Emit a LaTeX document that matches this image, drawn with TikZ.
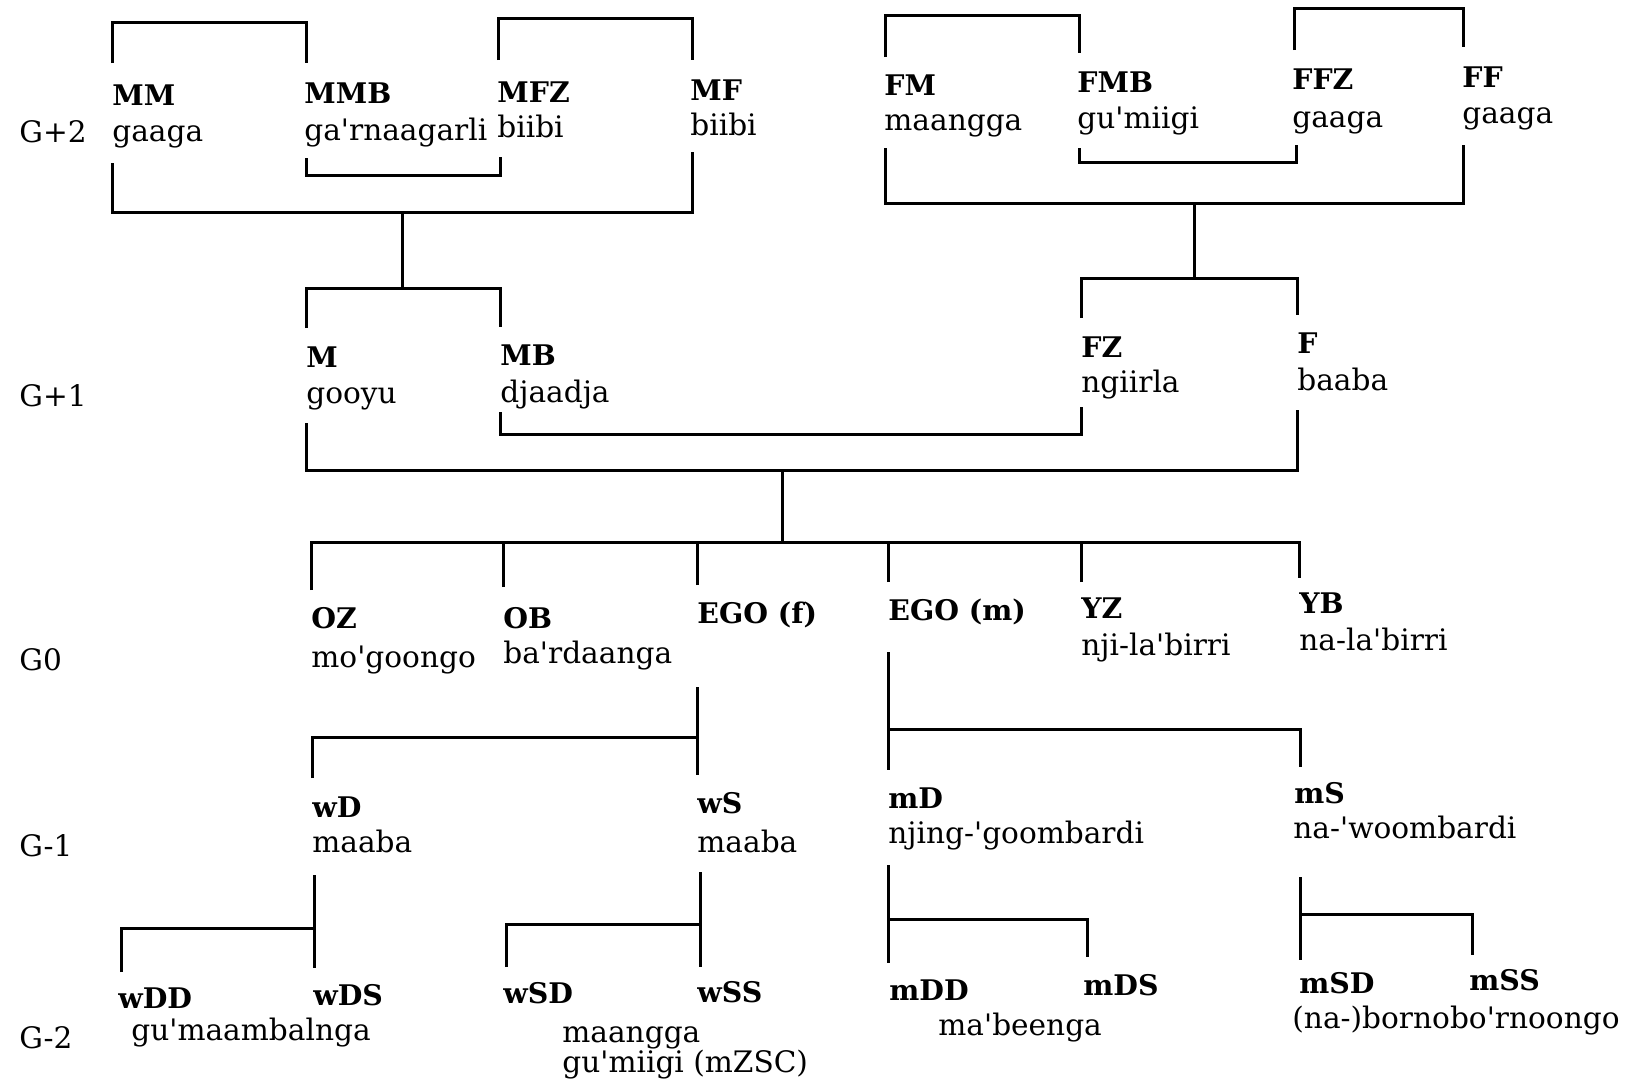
\documentclass[tikz,border=0pt]{standalone}
\usepackage{fontspec}
\setmainfont{DejaVu Serif}
\newcommand\qk{\textquotesingle}
\begin{document}
\begin{tikzpicture}[x=0.5pt,y=-0.5pt,
  lab/.style={anchor=base west, inner sep=0pt, font=\fontsize{14.2}{17}\selectfont\bfseries},
  trm/.style={anchor=base west, inner sep=0pt, font=\fontsize{14.8}{17}\selectfont},
  conn/.style={line width=1.5pt, line join=miter}]
\useasboundingbox[fill=white] (0,0) rectangle (1640,1092);

% generation labels
\node[trm] (g2) at (19,142) {G+2};
\node[trm] (g1) at (19,406) {G+1};
\node[trm] (g0) at (19,670) {G0};
\node[trm] (gm1) at (19,856) {G-1};
\node[trm] (gm2) at (19,1048) {G-2};

% G+2
\node[lab] (MM) at (112,105) {MM};   \node[trm] (MMt) at (112,141) {gaaga};
\node[lab] (MMB) at (304,103) {MMB}; \node[trm] (MMBt) at (304,140) {ga\qk rnaagarli};
\node[lab] (MFZ) at (497,102) {MFZ}; \node[trm] (MFZt) at (497,137) {biibi};
\node[lab] (MF) at (690,100) {MF};   \node[trm] (MFt) at (690,135) {biibi};
\node[lab] (FM) at (884,95) {FM};    \node[trm] (FMt) at (884,130) {maangga};
\node[lab] (FMB) at (1077,92) {FMB}; \node[trm] (FMBt) at (1077,128) {gu\qk miigi};
\node[lab] (FFZ) at (1292,90) {FFZ}; \node[trm] (FFZt) at (1292,127) {gaaga};
\node[lab] (FF) at (1462,87) {FF};   \node[trm] (FFt) at (1462,123) {gaaga};

% G+1
\node[lab] (M) at (306,367) {M};     \node[trm] (Mt) at (306,403) {gooyu};
\node[lab] (MB) at (500,365) {MB};   \node[trm] (MBt) at (500,402) {djaadja};
\node[lab] (FZ) at (1081,357) {FZ};  \node[trm] (FZt) at (1081,392) {ngiirla};
\node[lab] (F) at (1297,353) {F};    \node[trm] (Ft) at (1297,390) {baaba};

% G0
\node[lab] (OZ) at (311,628) {OZ};   \node[trm] (OZt) at (311,667) {mo\qk goongo};
\node[lab] (OB) at (503,628) {OB};   \node[trm] (OBt) at (503,663) {ba\qk rdaanga};
\node[lab] (EGOf) at (697,623) {EGO (f)};
\node[lab] (EGOm) at (888,620) {EGO (m)};
\node[lab] (YZ) at (1081,618) {YZ};  \node[trm] (YZt) at (1081,655) {nji-la\qk birri};
\node[lab] (YB) at (1299,613) {YB};  \node[trm] (YBt) at (1299,650) {na-la\qk birri};

% G-1
\node[lab] (wD) at (312,817) {wD};   \node[trm] (wDt) at (312,852) {maaba};
\node[lab] (wS) at (697,813) {wS};   \node[trm] (wSt) at (697,852) {maaba};
\node[lab] (mD) at (888,808) {mD};   \node[trm] (mDt) at (888,843) {njing-\qk goombardi};
\node[lab] (mS) at (1294,803) {mS};  \node[trm] (mSt) at (1293,838) {na-\qk woombardi};

% G-2
\node[lab] (wDD) at (118,1008) {wDD};
\node[lab] (wDS) at (313,1005) {wDS};
\node[trm] (wDCt) at (131,1040) {gu\qk maambalnga};
\node[lab] (wSD) at (503,1003) {wSD};
\node[lab] (wSS) at (697,1002) {wSS};
\node[trm] (wSCt) at (562,1042) {maangga};
\node[trm] (wSCt2) at (562,1072) {gu\qk miigi (mZSC)};
\node[lab] (mDD) at (889,1000) {mDD};
\node[lab] (mDS) at (1083,995) {mDS};
\node[trm] (mDCt) at (938,1035) {ma\qk beenga};
\node[lab] (mSD) at (1299,993) {mSD};
\node[lab] (mSS) at (1469,990) {mSS};
\node[trm] (mSCt) at (1292,1028) {(na-)bornobo\qk rnoongo};

% line end coordinates
\coordinate (MMu) at (112,63);   \coordinate (MMBu) at (306,63);
\coordinate (MFZu) at (498,60);  \coordinate (MFu) at (692,60);
\coordinate (FMu) at (885,57);   \coordinate (FMBu) at (1079,53);
\coordinate (FFZu) at (1294,50); \coordinate (FFu) at (1463,47);
\coordinate (MMBd) at (306,158); \coordinate (MFZd) at (500,157);
\coordinate (MMd) at (112,163);  \coordinate (MFd) at (692,152);
\coordinate (FMBd) at (1079,148);\coordinate (FFZd) at (1296,145);
\coordinate (FMd) at (885,148);  \coordinate (FFd) at (1463,145);
\coordinate (pM) at (402,212);   \coordinate (pF) at (1194,203);
\coordinate (Mu) at (306,328);   \coordinate (MBu) at (500,327);
\coordinate (FZu) at (1081,318); \coordinate (Fu) at (1297,315);
\coordinate (sM) at (402,288);   \coordinate (sF) at (1194,278);
\coordinate (MBd) at (500,412);  \coordinate (FZd) at (1081,407);
\coordinate (Md) at (306,423);   \coordinate (Fd) at (1297,410);
\coordinate (pE) at (782,470);   \coordinate (sE) at (782,542);
\coordinate (OZu) at (311,590);  \coordinate (OBu) at (503,587);
\coordinate (EGOfu) at (697,585);\coordinate (EGOmu) at (888,582);
\coordinate (YZu) at (1081,582); \coordinate (YBu) at (1299,578);
\coordinate (EGOfd) at (697,687);\coordinate (EGOmd) at (888,652);
\coordinate (wDu) at (312,778);  \coordinate (wSu) at (697,775);
\coordinate (mDu) at (888,770);  \coordinate (mSu) at (1300,767);
\coordinate (bf) at (697,737);   \coordinate (bm) at (888,729);
\coordinate (wDd) at (314,875);  \coordinate (wSd) at (700,872);
\coordinate (mDd) at (888,865);  \coordinate (mSd) at (1300,877);
\coordinate (wDDu) at (121,972); \coordinate (wDSu) at (314,968);
\coordinate (wSDu) at (506,967); \coordinate (wSSu) at (700,967);
\coordinate (mDDu) at (888,963); \coordinate (mDSu) at (1087,957);
\coordinate (mSDu) at (1300,960);\coordinate (mSSu) at (1472,955);
\coordinate (bwD) at (314,928);  \coordinate (bwS) at (700,924);
\coordinate (bmD) at (888,919);  \coordinate (bmS) at (1300,914);

% G+2 sibling brackets (top)
\draw[conn] (MMu) -- ++(0,-41) -| (MMBu);
\draw[conn] (MFZu) -- ++(0,-42) -| (MFu);
\draw[conn] (FMu) -- ++(0,-42) -| (FMBu);
\draw[conn] (FFZu) -- ++(0,-42) -| (FFu);
% G+2 marriages (bottom)
\draw[conn] (MMBd) -- ++(0,17) -| (MFZd);
\draw[conn] (FMBd) -- ++(0,14) -| (FFZd);
\draw[conn] (MMd) |- (pM) -| (MFd);
\draw[conn] (FMd) |- (pF) -| (FFd);
% descent to G+1
\draw[conn] (pM) -- (sM);
\draw[conn] (pF) -- (sF);
\draw[conn] (Mu) |- (sM) -| (MBu);
\draw[conn] (FZu) |- (sF) -| (Fu);
% G+1 marriages
\draw[conn] (MBd) -- ++(0,22) -| (FZd);
\draw[conn] (Md) |- (pE) -| (Fd);
% descent to G0
\draw[conn] (pE) -- (sE);
\draw[conn] (OZu) |- (sE) -| (YBu);
\draw[conn] (OBu) -- (OBu |- sE);
\draw[conn] (EGOfu) -- (EGOfu |- sE);
\draw[conn] (EGOmu) -- (EGOmu |- sE);
\draw[conn] (YZu) -- (YZu |- sE);
% G0 to G-1
\draw[conn] (EGOfd) -- (wSu);
\draw[conn] (wDu) |- (bf);
\draw[conn] (EGOmd) -- (mDu);
\draw[conn] (bm) -| (mSu);
% G-1 to G-2
\draw[conn] (wDd) -- (wDSu);
\draw[conn] (wDDu) |- (bwD);
\draw[conn] (wSd) -- (wSSu);
\draw[conn] (wSDu) |- (bwS);
\draw[conn] (mDd) -- (mDDu);
\draw[conn] (bmD) -| (mDSu);
\draw[conn] (mSd) -- (mSDu);
\draw[conn] (bmS) -| (mSSu);
\end{tikzpicture}
\end{document}
